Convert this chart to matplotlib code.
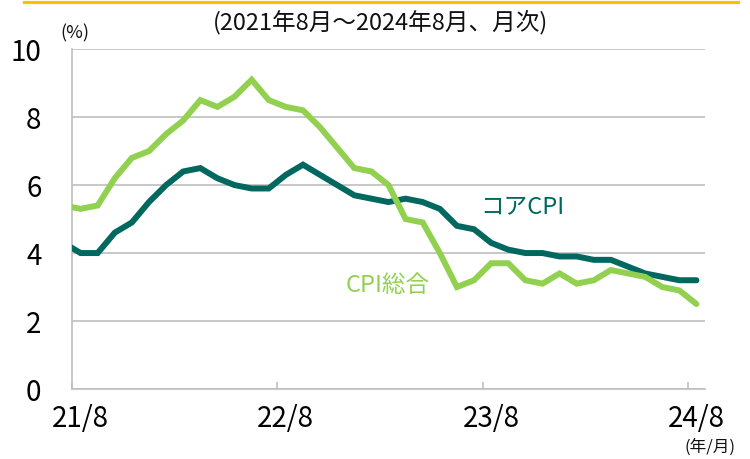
import matplotlib
matplotlib.use("Agg")
import matplotlib.pyplot as plt
from matplotlib.lines import Line2D

plt.rcParams['font.family'] = ['Noto Sans CJK JP', 'DejaVu Sans']

# Monthly data, Jul 2021 .. Aug 2024 (Jul 2021 lies just left of the plot and is clipped)
months = ["21/7", "21/8", "21/9", "21/10", "21/11", "21/12",
          "22/1", "22/2", "22/3", "22/4", "22/5", "22/6", "22/7", "22/8", "22/9", "22/10", "22/11", "22/12",
          "23/1", "23/2", "23/3", "23/4", "23/5", "23/6", "23/7", "23/8", "23/9", "23/10", "23/11", "23/12",
          "24/1", "24/2", "24/3", "24/4", "24/5", "24/6", "24/7", "24/8"]
cpi_total = [5.4, 5.3, 5.4, 6.2, 6.8, 7.0,
             7.5, 7.9, 8.5, 8.3, 8.6, 9.1, 8.5, 8.3, 8.2, 7.7, 7.1, 6.5,
             6.4, 6.0, 5.0, 4.9, 4.0, 3.0, 3.2, 3.7, 3.7, 3.2, 3.1, 3.4,
             3.1, 3.2, 3.5, 3.4, 3.3, 3.0, 2.9, 2.5]
cpi_core = [4.3, 4.0, 4.0, 4.6, 4.9, 5.5,
            6.0, 6.4, 6.5, 6.2, 6.0, 5.9, 5.9, 6.3, 6.6, 6.3, 6.0, 5.7,
            5.6, 5.5, 5.6, 5.5, 5.3, 4.8, 4.7, 4.3, 4.1, 4.0, 4.0, 3.9,
            3.9, 3.8, 3.8, 3.6, 3.4, 3.3, 3.2, 3.2]
tick_labels = ["21/8", "22/8", "23/8", "24/8"]
yticks = [0, 2, 4, 6, 8, 10]

GREEN = "#92D050"
TEAL = "#00685F"
GRID = "#BFBFBF"

fig = plt.figure(figsize=(7.5, 4.59), dpi=100)
ax = fig.add_axes([0.096, 0.1525, 0.844, 0.7405])

x = [i - 0.5 for i in range(len(months))]  # category centres (Aug 2021 at 0.5)
ax.plot(x, cpi_core, color=TEAL, lw=4.3, solid_capstyle='round', solid_joinstyle='miter', zorder=3)
ax.plot(x, cpi_total, color=GREEN, lw=4.3, solid_capstyle='round', solid_joinstyle='miter', zorder=3)

ax.set_xlim(0, 37)
ax.set_ylim(0, 10)
ax.set_yticks(yticks)
ax.set_yticklabels([str(v) for v in yticks], fontsize=20)
ax.yaxis.grid(True, color=GRID, lw=1.2)
ax.set_axisbelow(True)
ax.tick_params(axis='y', length=0, pad=22)

# tick marks at category boundaries, labels at category centres
ax.set_xticks([0, 12, 24, 36])
ax.set_xticklabels([])
ax.tick_params(axis='x', which='major', direction='in', length=5, color=GRID, width=1.2)
ax.set_xticks([0.5, 12.5, 24.5, 36.5], minor=True)
ax.set_xticklabels(tick_labels, minor=True, fontsize=20)
ax.tick_params(axis='x', which='minor', length=0, pad=11)

for s in ['top', 'right']:
    ax.spines[s].set_visible(False)
for s in ['left', 'bottom']:
    ax.spines[s].set_color(GRID)
    ax.spines[s].set_linewidth(1.2)

# Series labels
ax.text(522 / 750, 1 - 208 / 459, "コアCPI", transform=fig.transFigure, color=TEAL,
        fontsize=17, ha='center', va='center')
ax.text(388 / 750, 1 - 285 / 459, "CPI総合", transform=fig.transFigure, color=GREEN,
        fontsize=17, ha='center', va='center')

# Title / units
fig.text(380 / 750, 1 - 22 / 459, "(2021年8月～2024年8月、月次)", fontsize=17,
         ha='center', va='center', color='#111111')
fig.text(75 / 750, 1 - 33 / 459, "(%)", fontsize=13, ha='center', va='center', color='#111111')
fig.text(684 / 750, 1 - 447 / 459, "(年/月)", fontsize=12, ha='left', va='center', color='#111111')

# Yellow top rule
fig.add_artist(Line2D([24 / 750, 738 / 750], [1 - 1.5 / 459, 1 - 1.5 / 459],
                      transform=fig.transFigure, color="#FFC000", lw=2.3))

fig.savefig("out.png", dpi=100)
